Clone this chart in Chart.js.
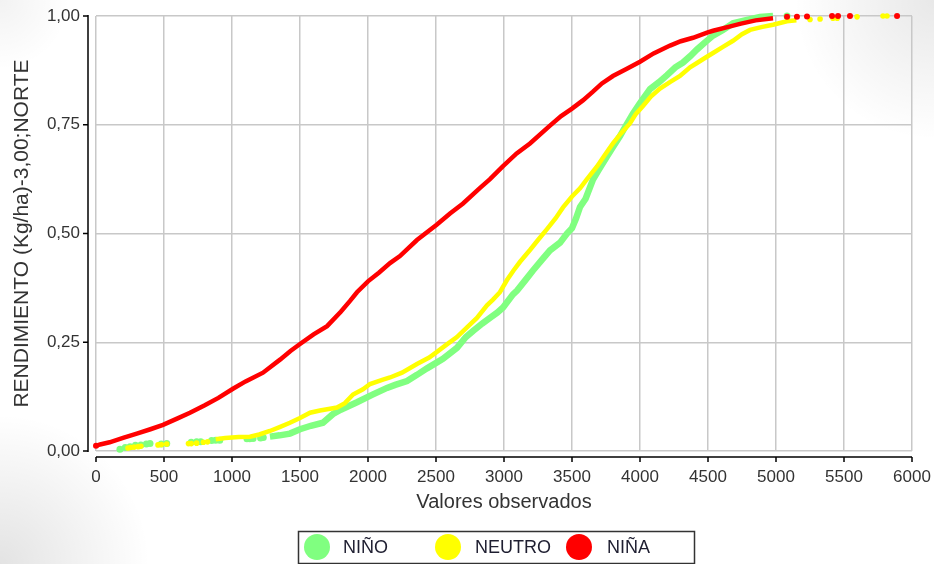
<!DOCTYPE html>
<html>
<head>
<meta charset="utf-8">
<script src="https://cdn.jsdelivr.net/npm/chart.js@4.4.1/dist/chart.umd.min.js"></script>
<style>
  html, body { margin: 0; padding: 0; }
  body {
    width: 934px; height: 564px; overflow: hidden;
    background:
      radial-gradient(circle at 100% 0%, rgba(0,0,0,0.09), rgba(0,0,0,0) 140px),
      radial-gradient(circle at 0% 100%, rgba(0,0,0,0.11), rgba(0,0,0,0) 150px),
      radial-gradient(circle at 0% 0%, rgba(0,0,0,0.05), rgba(0,0,0,0) 70px),
      #ffffff;
  }
  #wrap { position: relative; width: 934px; height: 564px; }
</style>
</head>
<body>
<div id="wrap"><canvas id="c" width="934" height="564"></canvas></div>
<script>
// ---------- data ----------
const seriesNames = ['NIÑO', 'NEUTRO', 'NIÑA'];
const seriesColors = ['#80ff80', '#ffff00', '#ff0000'];

const xTickValues = [0,500,1000,1500,2000,2500,3000,3500,4000,4500,5000,5500,6000];
const yTickLabels = ['0,00','0,25','0,50','0,75','1,00'];

// NIÑO (green)
const ninoCurve = [
  [1279,.033],[1350,.036],[1426,.040],[1500,.050],[1580,.058],[1669,.065],[1743,.085],[1800,.095],
  [1919,.112],[2037,.130],[2140,.145],[2200,.152],[2287,.161],[2360,.175],[2434,.190],[2551,.212],
  [2654,.237],[2720,.262],[2772,.276],[2840,.293],[2897,.306],[2950,.318],[2993,.330],[3066,.360],
  [3096,.369],[3150,.390],[3213,.415],[3280,.440],[3338,.461],[3412,.479],[3463,.500],[3500,.512],
  [3530,.535],[3559,.561],[3600,.580],[3654,.624],[3700,.648],[3757,.677],[3800,.698],[3853,.724],
  [3900,.750],[3949,.776],[4000,.800],[4074,.832],[4140,.848],[4199,.864],[4260,.882],[4316,.893],
  [4370,.908],[4419,.923],[4480,.940],[4537,.955],[4610,.968],[4684,.983],[4787,.991],[4882,.998],
  [4978,1.0]
];
const ninoDots = [
  [176,.004],[215,.008],[250,.010],[290,.013],[330,.014],[370,.016],[397,.017],[480,.016],[520,.017],
  [700,.020],[740,.021],[770,.021],[850,.024],[880,.025],[910,.025],[1110,.028],[1130,.028],
  [1155,.029],[1210,.030],[1230,.031],[5081,1.0]
];

// NEUTRO (yellow)
const neutroCurve = [
  [880,.027],[950,.030],[1050,.032],[1132,.033],[1200,.038],[1279,.046],[1350,.055],[1426,.065],
  [1500,.076],[1574,.088],[1647,.093],[1721,.097],[1772,.100],[1830,.110],[1890,.130],[1963,.142],
  [2015,.154],[2110,.164],[2162,.169],[2250,.180],[2360,.200],[2450,.215],[2507,.228],[2580,.245],
  [2654,.262],[2730,.285],[2801,.306],[2875,.335],[2919,.348],[2970,.365],[3022,.393],[3070,.415],
  [3118,.435],[3191,.462],[3250,.485],[3316,.510],[3380,.535],[3434,.560],[3500,.585],[3559,.604],
  [3610,.625],[3684,.654],[3740,.680],[3801,.707],[3860,.730],[3926,.753],[3970,.775],[4022,.793],
  [4080,.815],[4147,.833],[4220,.848],[4294,.862],[4368,.882],[4419,.892],[4480,.904],[4537,.915],
  [4610,.929],[4684,.943],[4750,.958],[4809,.968],[4900,.975],[4978,.980],[5080,.988],[5150,.990]
];
const neutroDots = [
  [235,.007],[255,.008],[280,.009],[310,.010],[330,.011],[456,.014],[480,.015],[520,.016],
  [680,.017],[700,.017],[740,.018],[790,.020],[820,.021],
  [5250,.992],[5324,.993],[5419,.995],[5450,.995],[5596,.998],[5787,1.0],[5816,1.0]
];

// NIÑA (red)
const ninaCurve = [
  [0,.012],[30,.015],[100,.020],[199,.030],[300,.040],[400,.050],[493,.060],[600,.075],[691,.088],
  [800,.105],[900,.122],[1007,.143],[1100,.160],[1228,.180],[1353,.210],[1430,.230],[1500,.246],
  [1600,.268],[1699,.287],[1800,.320],[1868,.345],[1919,.365],[2000,.390],[2080,.410],[2162,.432],
  [2235,.448],[2360,.485],[2505,.520],[2603,.546],[2699,.569],[2824,.605],[2897,.625],[2993,.655],
  [3093,.684],[3191,.707],[3338,.748],[3420,.770],[3500,.787],[3580,.806],[3654,.826],[3720,.845],
  [3801,.862],[3900,.878],[4000,.895],[4100,.914],[4221,.932],[4300,.942],[4390,.950],[4493,.962],
  [4537,.966],[4650,.975],[4735,.982],[4850,.990],[4978,.995]
];
const ninaDots = [
  [0,.012],[5081,.998],[5154,.998],[5228,.999],[5412,1.0],[5456,1.0],[5544,1.0],[5890,1.0]
];

// ---------- chart ----------
const toXY = arr => arr.map(p => ({x: p[0], y: p[1]}));
const FONT = "'Liberation Sans', Arial, sans-serif";

function curve(name, data, color, width, order) {
  return { label: name, data: toXY(data), showLine: true, borderColor: color, backgroundColor: color,
           borderWidth: width, pointRadius: 0, pointHoverRadius: 0, tension: 0, order: order, clip: 6 };
}
function dots(name, data, color, r, order) {
  return { label: name + ' ', data: toXY(data), showLine: false, borderColor: color, backgroundColor: color,
           borderWidth: 0, pointRadius: r, pointHoverRadius: r, order: order, clip: 8 };
}

const axisLines = {
  id: 'axisLines',
  afterDraw(chart) {
    const {ctx, chartArea: a, scales: {x, y}} = chart;
    ctx.save();
    ctx.strokeStyle = '#000';
    ctx.lineWidth = 1.5;
    ctx.beginPath();
    const ax = a.left - 8;
    ctx.moveTo(ax, a.top - 1); ctx.lineTo(ax, a.bottom + 1);
    y.ticks.forEach(t => { const py = y.getPixelForValue(t.value); ctx.moveTo(ax - 5, py); ctx.lineTo(ax, py); });
    const ay = a.bottom + 6;
    ctx.moveTo(a.left, ay); ctx.lineTo(a.right, ay);
    x.ticks.forEach(t => { const px = x.getPixelForValue(t.value); ctx.moveTo(px, ay); ctx.lineTo(px, ay + 5); });
    ctx.stroke();
    ctx.restore();
  }
};

const boxLegend = {
  id: 'boxLegend',
  afterDraw(chart) {
    const ctx = chart.ctx;
    ctx.save();
    ctx.strokeStyle = '#333';
    ctx.lineWidth = 1.5;
    ctx.strokeRect(298.5, 531.5, 396, 32);
    const cx = [317, 448, 579];
    const tx = [343, 475, 607];
    ctx.font = '18px ' + FONT;
    ctx.textBaseline = 'middle';
    ctx.textAlign = 'left';
    seriesNames.forEach((n, i) => {
      ctx.fillStyle = seriesColors[i];
      ctx.beginPath(); ctx.arc(cx[i], 547, 13, 0, Math.PI * 2); ctx.fill();
      ctx.fillStyle = '#1e1e30';
      ctx.fillText(n, tx[i], 548);
    });
    ctx.restore();
  }
};

new Chart(document.getElementById('c'), {
  type: 'scatter',
  data: {
    datasets: [
      curve(seriesNames[0], ninoCurve, seriesColors[0], 6.5, 3),
      dots(seriesNames[0], ninoDots, seriesColors[0], 3.5, 3),
      curve(seriesNames[1], neutroCurve, seriesColors[1], 4.5, 2),
      dots(seriesNames[1], neutroDots, seriesColors[1], 2.8, 2),
      curve(seriesNames[2], ninaCurve, seriesColors[2], 4.5, 1),
      dots(seriesNames[2], ninaDots, seriesColors[2], 3, 1)
    ]
  },
  options: {
    responsive: false,
    animation: false,
    events: [],
    layout: { padding: { left: 0, right: 22, top: 16, bottom: 50 } },
    plugins: { legend: { display: false }, tooltip: { enabled: false } },
    scales: {
      x: {
        type: 'linear', min: 0, max: 6000,
        afterBuildTicks: s => { s.ticks = xTickValues.map(v => ({value: v})); },
        afterFit: s => { s.height = 63; },
        grid: { color: '#c8c8c8', lineWidth: 1.5, drawTicks: true, tickLength: 13, tickColor: 'rgba(0,0,0,0)' },
        border: { display: false },
        ticks: { font: { family: FONT, size: 17 }, color: '#333', padding: 3, maxRotation: 0, autoSkip: false,
                 callback: v => String(v) },
        title: { display: true, text: 'Valores observados', font: { family: FONT, size: 20 }, color: '#333',
                 padding: { top: 0, bottom: 0 } }
      },
      y: {
        type: 'linear', min: 0, max: 1,
        afterBuildTicks: s => { s.ticks = yTickLabels.map((l, i) => ({value: i * 0.25})); },
        afterFit: s => { s.width = 96; },
        grid: { color: '#c8c8c8', lineWidth: 1.5, drawTicks: true, tickLength: 13, tickColor: 'rgba(0,0,0,0)' },
        border: { display: false },
        ticks: { font: { family: FONT, size: 17 }, color: '#333', padding: 3, autoSkip: false,
                 callback: (v) => yTickLabels[Math.round(v / 0.25)] },
        title: { display: true, text: 'RENDIMIENTO (Kg/ha)-3,00;NORTE', font: { family: FONT, size: 21 }, color: '#333',
                 padding: { top: 10, bottom: 0 } }
      }
    }
  },
  plugins: [axisLines, boxLegend]
});
</script>
</body>
</html>
